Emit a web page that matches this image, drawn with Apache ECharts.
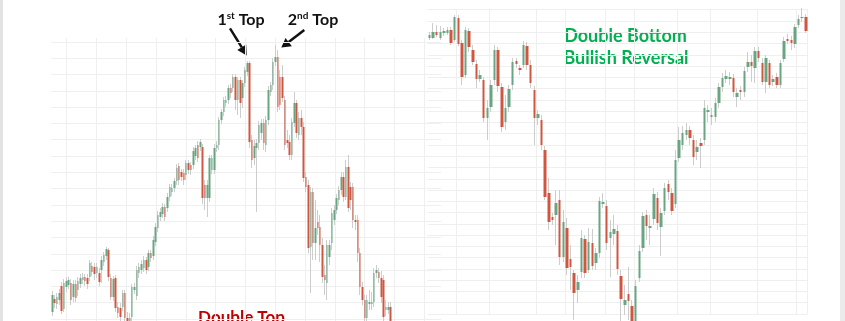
<!DOCTYPE html>
<html><head><meta charset="utf-8">
<script src="https://cdn.jsdelivr.net/npm/echarts@6/dist/echarts.min.js"></script>
<style>html,body{margin:0;padding:0;background:#fff}#c{width:845px;height:321px}</style>
</head><body><div id="c"></div>
<script>
// ---- Left panel: Double Top (price units, arbitrary scale) ----
const leftOpen = [7,20,15,19,33,10,32,34,36,22,35,29,35,39,42,41,42,53,52,46,46,49,57,63,69,41,22,41,12,11,12,26,1,-3,2,29,23,46,49,51,59,52,66,63,77,91,102,105,112,111,122,127,131,138,153,147,146,144,156,154,154,163,174,172,172,134,121,121,149,149,171,174,199,207,216,219,231,231,242,219,239,221,236,247,256,179,161,171,176,186,196,174,199,227,234,257,262,242,242,219,179,177,164,196,216,184,201,192,142,134,72,127,76,97,92,74,44,36,62,76,99,109,119,129,142,122,152,132,132,99,99,66,32,19,1,15,15,17,46,47,41,39,9,9,12];
const leftClose = [24,16,22,26,8,36,38,39,19,35,21,38,41,42,38,35,56,47,45,52,37,59,64,70,42,22,40,11,6,2,26,1,-6,1,32,32,49,52,55,59,49,66,61,79,92,104,107,112,102,122,132,131,138,151,139,142,139,156,149,149,168,171,161,177,121,121,134,161,161,171,174,199,207,219,219,231,226,242,219,239,216,236,249,256,177,159,173,176,194,196,176,199,229,234,257,262,212,214,221,174,176,164,197,216,186,201,192,141,132,71,127,76,91,91,74,42,39,74,74,106,109,121,129,142,122,152,111,119,99,97,66,32,19,1,19,17,17,46,49,41,22,2,12,12,-6];
const leftLow = [3,11,10,14,5,7,27,30,14,17,17,23,31,35,33,30,38,43,39,41,33,36,53,59,38,19,18,7,1,-2,8,-3,-10,-7,-2,25,19,41,45,47,45,48,57,59,73,87,98,101,98,107,118,123,127,134,134,138,134,139,145,144,150,159,157,168,115,109,102,117,145,145,167,169,195,203,212,215,221,227,209,204,201,211,232,243,171,151,154,107,169,179,169,167,194,223,229,253,207,209,217,169,171,159,159,192,181,179,184,137,127,66,26,59,59,84,57,36,24,19,54,69,94,105,114,124,117,119,107,109,91,89,57,24,14,-6,-6,9,9,12,41,36,16,-3,3,5,-11];
const leftHigh = [28,24,26,30,37,40,42,42,40,39,39,42,45,46,45,45,59,57,56,56,51,63,67,72,71,45,43,44,17,16,29,29,7,6,35,36,53,56,59,63,62,69,69,83,96,108,111,116,115,126,135,135,141,155,156,150,150,159,159,157,172,174,178,180,175,139,139,164,164,175,178,202,210,222,223,234,235,245,245,242,242,239,252,258,258,184,179,180,198,200,200,203,233,237,261,274,269,249,254,223,189,184,201,227,219,207,209,197,147,139,132,131,119,109,104,81,54,79,79,111,114,125,133,147,147,159,164,137,136,104,104,71,37,24,24,29,27,51,54,51,48,44,19,17,17];

// ---- Right panel: Double Bottom ----
const rightOpen = [276,276,282,276,281,281,284,274,296,271,239,283,264,250,235,234,196,207,234,264,227,192,207,229,253,246,249,268,249,224,196,194,164,121,97,99,114,57,86,55,41,24,42,75,44,71,51,61,110,108,76,80,83,38,9,20,8,-8,36,66,99,86,95,116,87,103,130,121,110,156,169,179,184,174,162,171,174,202,197,197,211,227,235,235,236,217,224,222,247,252,246,263,251,232,251,232,237,229,255,275,274,270,289,296,297];
const rightClose = [279,282,279,282,283,284,271,297,270,237,284,267,252,235,239,196,206,229,264,228,187,206,225,252,250,244,269,249,231,196,200,169,117,92,94,111,57,92,46,47,21,32,76,41,72,48,61,113,112,71,82,85,45,15,14,13,-8,28,63,98,88,88,120,91,101,126,122,103,154,174,181,184,176,157,167,168,206,204,199,211,227,236,238,237,222,221,222,243,252,248,263,256,232,256,229,235,229,251,273,273,271,287,295,297,283];
const rightLow = [274,275,277,274,278,279,269,272,268,229,236,262,249,226,232,192,174,202,229,222,182,184,202,224,246,239,246,244,226,169,189,164,114,84,89,69,49,52,39,24,-6,11,36,36,41,44,44,56,106,64,37,69,39,-8,-1,-6,-12,-12,32,62,74,69,89,84,58,99,114,99,106,152,164,174,169,149,154,146,169,192,189,192,206,222,231,229,217,207,214,217,242,232,231,252,229,221,226,228,226,226,252,270,264,266,286,292,281];
const rightHigh = [282,291,289,288,286,287,287,299,299,274,287,286,269,254,244,237,214,234,269,267,231,219,229,256,256,249,273,272,254,228,204,199,168,136,101,124,124,104,96,69,44,39,84,79,86,85,66,117,121,114,94,99,89,44,29,47,14,34,69,102,104,99,126,122,106,131,134,126,164,187,188,191,188,179,174,176,214,209,206,216,231,241,244,242,240,226,228,247,262,259,267,267,256,259,254,239,241,254,277,280,278,290,299,306,300];

// category slots (sessions); left panel leaves empty sessions to the right of the data
const leftCategories = Array.from({length: 166}, (_, i) => 'S' + (i + 1));
const rightCategories = Array.from({length: rightOpen.length}, (_, i) => 'S' + (i + 1));
const rightMonthStarts = [8, 17, 30, 38, 49, 57, 69, 78, 91, 102];

const GREEN = '#6aa583', RED = '#cf5641', WICK = '#cdcdcd', GRIDC = '#efefef';
const FONT = 'Lato, "Liberation Sans", sans-serif';

function wickRows(o, c, l, h) { return o.map((v, i) => [v, c[i], l[i], h[i]]); }
function bodyRows(o, c) { return o.map((v, i) => [v, c[i], Math.min(v, c[i]), Math.max(v, c[i])]); }

const hidden = { axisLine: { show: false }, axisTick: { show: false }, axisLabel: { show: false } };

function wickSeries(xi, o, c, l, h) {
  return { type: 'candlestick', xAxisIndex: xi, yAxisIndex: xi, data: wickRows(o, c, l, h), barWidth: 0.5,
    clip: false, z: 2, silent: true,
    itemStyle: { color: WICK, color0: WICK, borderColor: WICK, borderColor0: WICK, borderWidth: 1 } };
}
function bodySeries(xi, o, c, w) {
  return { type: 'candlestick', xAxisIndex: xi, yAxisIndex: xi, data: bodyRows(o, c), barWidth: w,
    clip: false, z: 3, silent: true,
    itemStyle: { color: GREEN, color0: RED, borderColor: GREEN, borderColor0: RED, borderWidth: 0 } };
}

const chart = echarts.init(document.getElementById('c'), null, { renderer: 'canvas' });
chart.setOption({
  animation: false,
  backgroundColor: '#ffffff',
  grid: [
    { left: 51.1, top: 41.9, width: 390.1, height: 277.1 },
    { left: 66.7, top: 38, width: 357.6, height: 283 },
    { left: 427.6, top: 9.71, width: 380, height: 304.29 }
  ],
  xAxis: [
    Object.assign({ type: 'category', gridIndex: 0, data: leftCategories, boundaryGap: true, splitLine: { show: false } }, hidden),
    Object.assign({ type: 'value', gridIndex: 1, min: 0, max: 12, interval: 1, splitLine: { show: true, lineStyle: { color: GRIDC, width: 1 } } }, hidden),
    Object.assign({ type: 'category', gridIndex: 2, data: rightCategories, boundaryGap: true,
      splitLine: { show: true, interval: (idx) => rightMonthStarts.includes(idx), lineStyle: { color: GRIDC, width: 1 } } }, hidden)
  ],
  yAxis: [
    Object.assign({ type: 'value', gridIndex: 0, min: 0, max: 16.3 * 17, interval: 16.3, splitLine: { show: true, lineStyle: { color: GRIDC, width: 1 } } }, hidden),
    Object.assign({ type: 'value', gridIndex: 1, min: 0, max: 1, splitLine: { show: false } }, hidden),
    Object.assign({ type: 'value', gridIndex: 2, min: 0, max: 11.27 * 27, interval: 11.27, splitLine: { show: true, lineStyle: { color: GRIDC, width: 1 } } }, hidden)
  ],
  series: [
    { type: 'line', xAxisIndex: 1, yAxisIndex: 1, data: [], silent: true },
    wickSeries(0, leftOpen, leftClose, leftLow, leftHigh),
    bodySeries(0, leftOpen, leftClose, 2),
    wickSeries(2, rightOpen, rightClose, rightLow, rightHigh),
    bodySeries(2, rightOpen, rightClose, 3)
  ],
  graphic: [
    { type: 'rect', silent: true, shape: { x: 0, y: 0, width: 3, height: 321 }, style: { fill: '#e3e3e3' } },
    { type: 'rect', silent: true, shape: { x: 840, y: 0, width: 5, height: 321 }, style: { fill: '#ebebeb' } },
    { type: 'text', silent: true, x: 241, y: 20, style: {
        text: '{n|1}{s|st}{n| Top}', textAlign: 'center', textVerticalAlign: 'middle',
        rich: {
          n: { fontFamily: FONT, fontSize: 16, fontWeight: 'bold', fill: '#111', color: '#111', lineHeight: 18 },
          s: { fontFamily: FONT, fontSize: 10, fontWeight: 'bold', fill: '#111', color: '#111', lineHeight: 18, verticalAlign: 'top', padding: [0, 0, 7, 0] }
        } } },
    { type: 'text', silent: true, x: 313, y: 20, style: {
        text: '{n|2}{s|nd}{n| Top}', textAlign: 'center', textVerticalAlign: 'middle',
        rich: {
          n: { fontFamily: FONT, fontSize: 16, fontWeight: 'bold', fill: '#111', color: '#111', lineHeight: 18 },
          s: { fontFamily: FONT, fontSize: 10, fontWeight: 'bold', fill: '#111', color: '#111', lineHeight: 18, verticalAlign: 'top', padding: [0, 0, 7, 0] }
        } } },
    { type: 'line', silent: true, shape: { x1: 230, y1: 28.3, x2: 241.8, y2: 47.3 }, style: { stroke: '#111', lineWidth: 2.5 } },
    { type: 'polygon', silent: true, shape: { points: [[246.7, 55.5], [237.3, 50.1], [246.2, 44.5]] }, style: { fill: '#111' } },
    { type: 'line', silent: true, shape: { x1: 304.3, y1: 30, x2: 288.7, y2: 42 }, style: { stroke: '#111', lineWidth: 2.5 } },
    { type: 'polygon', silent: true, shape: { points: [[281.3, 47.6], [285.5, 37.9], [291.9, 46.2]] }, style: { fill: '#111' } },
    { type: 'text', silent: true, x: 241.5, y: 318, style: { text: 'Double Top', font: 'bold 17px ' + FONT, fill: '#c00000', textAlign: 'center', textVerticalAlign: 'middle' } },
    { type: 'text', silent: true, x: 625.5, y: 36, style: { text: 'Double Bottom', font: 'bold 18px ' + FONT, fill: '#00b050', textAlign: 'center', textVerticalAlign: 'middle' } },
    { type: 'text', silent: true, x: 626, y: 58.5, style: { text: 'Bullish Reversal', font: 'bold 18px ' + FONT, fill: '#00b050', textAlign: 'center', textVerticalAlign: 'middle' } }
  ]
});
</script>
</body></html>
